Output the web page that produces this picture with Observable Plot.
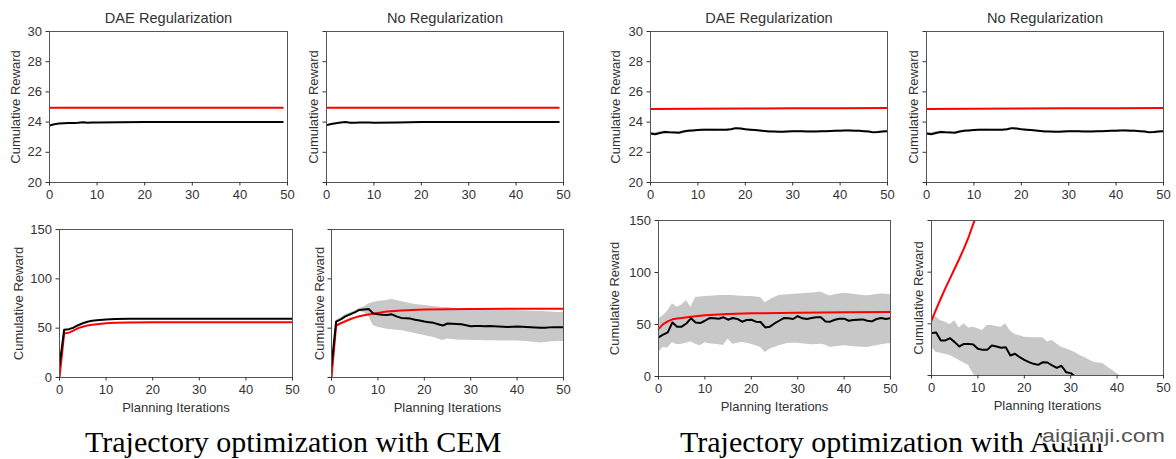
<!DOCTYPE html>
<html>
<head>
<meta charset="utf-8">
<script src="https://cdn.jsdelivr.net/npm/d3@7"></script>
<script src="https://cdn.jsdelivr.net/npm/@observablehq/plot@0.6"></script>
<style>
  html, body { margin: 0; padding: 0; background: #fff; }
  #root { position: relative; width: 1176px; height: 459px; overflow: hidden; background: #fff; }
  #root > svg, #root > figure { position: absolute; margin: 0; }
</style>
</head>
<body>
<div id="root"></div>
<script>
// ---------------- DATA ----------------
const xTicks = [0, 10, 20, 30, 40, 50];
const yTicksTop = [20, 22, 24, 26, 28, 30];
const yTicksBottom = [0, 50, 100, 150];
const colTitles = ["DAE Regularization", "No Regularization"];
const captions = ["Trajectory optimization with CEM", "Trajectory optimization with Adam"];
const yLabel = "Cumulative Reward";
const xLabel = "Planning Iterations";
const watermark = "aiqianji.com";

// CEM, top row
const cemTopX = [0, 1, 2, 3, 4, 5, 6, 7, 8, 9, 10, 15, 20, 30, 40, 49];
const cemTopDaeBlack = [23.78, 23.86, 23.9, 23.93, 23.94, 23.94, 23.96, 23.99, 23.96, 23.97, 23.98, 23.99, 24.0, 24.0, 24.0, 24.0];
const cemTopNoBlack = [23.8, 23.88, 23.93, 23.97, 24.0, 23.96, 23.95, 23.97, 23.97, 23.98, 23.96, 23.98, 24.0, 24.0, 24.0, 24.0];
const cemTopRedX = [0, 49];
const cemTopRed = [24.95, 24.95];

// CEM, bottom row, DAE
const cemBotDaeX = [0, 1, 2, 3, 4, 5, 6, 7, 8, 10, 12, 15, 20, 30, 40, 50];
const cemBotDaeBlack = [12, 48.5, 49, 50.5, 53, 55, 56.5, 57.5, 58, 58.7, 59.2, 59.5, 59.6, 59.6, 59.6, 59.6];
const cemBotDaeRed = [0, 44.5, 45.5, 47.5, 50, 51.5, 52.8, 53.5, 54, 55, 55.4, 55.7, 56, 56, 56, 56];

// CEM, bottom row, no regularization
const iter50 = [0,1,2,3,4,5,6,7,8,9,10,11,12,13,14,15,16,17,18,19,20,21,22,23,24,25,26,27,28,29,30,31,32,33,34,35,36,37,38,39,40,41,42,43,44,45,46,47,48,49,50];
const cemBotNoBlack = [12,56.7,59,62,64,66,68.5,69,69.5,65,64,63.5,63.4,64,62,60.4,60,59.7,58.5,57.7,56.7,56,55.4,54,52.7,54.7,54.5,54.2,54,53,52,52.3,52.1,52,52.2,52,51.8,51.5,51.3,51.5,51.7,51.5,51.3,51,50.6,50.3,50.5,50.8,51,51,51];
const cemBotNoHi = [12,58,60.5,63.5,65.5,67.5,70,71.5,74.5,76,77,77.5,78,79,78,77,76,75,74,73.5,73,72.5,72,71.5,71,71,70.5,70,70,69.8,69.5,69.3,69,69,68.8,68.5,68.5,68.3,68,68,68,67.7,67.5,67.2,67,66.8,66.6,66.4,66.2,66,66];
const cemBotNoLo = [12,55.5,57.5,60.5,62.5,64.5,67,66,62,52.7,51,50,49,48.5,48,47.7,46.5,45.5,44.5,43.5,42.6,41.5,40.5,39,37.6,39,38.5,38,37.8,37.7,37.6,37.5,37.4,37.3,37.2,37.2,37.1,37,37,37,37,36.8,36.5,36,35.5,35,35.5,36,36.3,36.5,36.6];
const cemBotNoRedX = [0, 1, 2, 3, 4, 5, 6, 7, 8, 10, 12, 15, 20, 25, 30, 40, 50];
const cemBotNoRed = [0, 52.7, 55, 57, 59, 60.7, 62, 63, 63.8, 65.5, 66.8, 67.8, 68.8, 69.2, 69.5, 69.7, 69.8];

// Adam, top row (both panels)
const adamTopBlack = [23.25,23.2,23.28,23.34,23.32,23.31,23.3,23.38,23.43,23.45,23.47,23.49,23.5,23.5,23.49,23.49,23.49,23.53,23.6,23.57,23.53,23.5,23.47,23.44,23.41,23.38,23.37,23.36,23.36,23.38,23.4,23.4,23.39,23.38,23.38,23.38,23.39,23.4,23.41,23.42,23.43,23.44,23.45,23.43,23.42,23.4,23.38,23.32,23.34,23.38,23.4];
const adamTopSpread = [0.09,0.09,0.08,0.07,0.06,0.05,0.05,0.04,0.04,0.04,0.04,0.04,0.04,0.04,0.04,0.04,0.04,0.04,0.04,0.04,0.04,0.04,0.04,0.04,0.04,0.04,0.04,0.04,0.04,0.04,0.04,0.04,0.04,0.04,0.04,0.04,0.04,0.04,0.04,0.04,0.04,0.04,0.04,0.04,0.04,0.04,0.04,0.04,0.04,0.04,0.04];
const adamTopRedX = [0, 10, 20, 30, 40, 50];
const adamTopRed = [24.86, 24.88, 24.9, 24.91, 24.92, 24.93];

// Adam, bottom row, DAE
const adamBotDaeBlack = [37.6,40.2,42.4,52,47.9,47.9,51,55.9,52,51.4,53.6,56.2,55.9,55.6,56.9,54.6,56.2,55.3,52.7,54.3,54.6,52.7,52.4,47.2,47.9,51,53.6,56.2,55.9,55.3,58.1,55.9,55.3,56.2,56.9,56.9,53,52.7,54.6,55.6,55.6,53.6,54.3,54.6,54.9,53.6,53,55.3,56.2,55.3,56.2];
const adamBotDaeHi = [55,58.5,63,70,66.5,68.7,73,66.5,76,76.5,77,77.2,77.5,77.8,78,78,77.8,77.5,77.2,77,77,76.5,76,71,73.6,76,78,78.3,78.6,79,79.3,79.6,80,80.3,80.6,81.3,79,77.4,78.5,79.3,80,79.5,79,78.5,78,77.7,78.2,78.8,79.3,79,78.7];
const adamBotDaeLo = [23,28,27.3,32.8,30.5,31,32,33.4,31,29.5,32.4,31.5,31,30.5,29.9,36,31,32,32.8,32,31,29.5,28,23,26.3,28,29.5,30.7,32,32,32,31.5,31,30.5,30.8,31,30,28,28.7,29,29.5,29,28.6,28.3,28.1,28,28.8,29.5,30.5,31.2,31.8];
const adamBotDaeRedX = [0, 1, 2, 3, 4, 5, 7, 10, 15, 20, 30, 40, 50];
const adamBotDaeRed = [45.6, 50.4, 53, 55, 55.7, 56.2, 57.5, 58.8, 60, 60.7, 61.4, 61.7, 62];

// Adam, bottom row, no regularization
const adamBotNoRedX = [0, 1, 2, 3, 4, 5, 6, 7, 8, 9, 10, 11];
const adamBotNoRed = [53, 64, 74.5, 84.5, 94, 103.5, 113, 123, 134, 146.8, 158, 170];
const adamBotNoBlackX = [0,1,2,3,4,5,6,7,8,9,10,11,12,13,14,15,16,17,18,19,20,21,22,23,24,25,26,27,28,29,30,31];
const adamBotNoBlack = [41,41.6,33.9,33.9,36.1,32.3,28.1,30.6,30.6,30,25.8,24.8,24.8,29,28.1,26.8,27.4,19.4,21,17.7,15.2,12.9,11.3,10.3,12.9,12.6,9.7,7.4,9.4,3.2,2.3,-1];
const adamBotNoBandX = [0,1,2,3,4,5,6,7,8,9,10,11,12,13,14,15,16,17,18,19,20,21,22,23,24,25,26,27,28,29,30,31,32,33,34,35,36,37,38,39,40,41];
const adamBotNoHi = [58,56.5,53,51.6,49.4,53,46,50,46,46.8,45.2,43.5,48.4,48.4,47.4,46.8,50,42.9,39.7,38.5,37,36.8,36.5,36.5,36.5,32.3,33.9,30.5,27.4,25.8,24.2,22,19.4,17.5,15,12.9,12,11.3,8,5,1.6,-1];
const adamBotNoLo = [27.4,22.6,21.6,20.5,19.4,17,14.5,12,9.7,1.6,-3,-5,-5,-5,-5,-5,-5,-5,-5,-5,-5,-5,-5,-5,-5,-5,-5,-5,-5,-5,-5,-5,-5,-5,-5,-5,-5,-5,-5,-5,-5,-5];

// ---------------- HELPERS ----------------
const rows = (xs, ys) => xs.map((x, i) => ({x, y: ys[i]}));
const bandRows = (xs, lo, hi) => xs.map((x, i) => ({x, lo: lo[i], hi: hi[i]}));
const FONT = "'Liberation Sans', Arial, Helvetica, sans-serif";
const root = document.getElementById("root");

function panel(cfg) {
  const ml = 62, mr = 18, mt = 30, mb = 45;
  const w = cfg.fx1 - cfg.fx0, h = cfg.fy1 - cfg.fy0;
  const marks = [];
  if (cfg.band) marks.push(Plot.areaY(cfg.band, {x: "x", y1: "lo", y2: "hi", fill: "#c8c8c8", clip: true}));
  if (cfg.red) marks.push(Plot.line(cfg.red, {x: "x", y: "y", stroke: "#ff0000", strokeWidth: 2, clip: true}));
  if (cfg.black) marks.push(Plot.line(cfg.black, {x: "x", y: "y", stroke: "#000", strokeWidth: 2, clip: true}));
  marks.push(Plot.frame({stroke: "#555", strokeWidth: 1}));
  marks.push(Plot.axisX({ticks: xTicks, tickSize: 3.5, tickPadding: 4, label: null, fontSize: 13}));
  marks.push(Plot.axisY({ticks: cfg.yTicks, tickSize: 3.5, tickPadding: 4, label: null, fontSize: 13,
    tickFormat: cfg.yLabels ? (d => String(d)) : (() => "")}));
  marks.push(Plot.text([yLabel], {frameAnchor: "left", textAnchor: "middle", lineAnchor: "middle", rotate: -90, dx: -cfg.ylOff, fontSize: 13, fill: "#333"}));
  if (cfg.title) marks.push(Plot.text([cfg.title], {frameAnchor: "top", textAnchor: "middle", lineAnchor: "middle", dy: -13.5, fontSize: 14.6, fill: "#333"}));
  if (cfg.xl) marks.push(Plot.text([xLabel], {frameAnchor: "bottom", textAnchor: "middle", lineAnchor: "middle", dy: 30.5, fontSize: 13, fill: "#333"}));
  const p = Plot.plot({
    width: w + ml + mr, height: h + mt + mb,
    marginLeft: ml, marginRight: mr, marginTop: mt, marginBottom: mb,
    x: {domain: [0, 50]},
    y: {domain: cfg.yDomain},
    style: {fontFamily: FONT, fontSize: "13px", color: "#333", background: "transparent", overflow: "visible"},
    marks
  });
  p.style.left = (cfg.fx0 - ml) + "px";
  p.style.top = (cfg.fy0 - mt) + "px";
  root.appendChild(p);
}

const adamTopBand = bandRows(iter50, adamTopBlack.map((v, i) => v - adamTopSpread[i]), adamTopBlack.map((v, i) => v + adamTopSpread[i]));

// CEM top
panel({fx0: 49, fx1: 287, fy0: 31, fy1: 182, yDomain: [20, 30], yTicks: yTicksTop, yLabels: true, ylOff: 34,
  title: colTitles[0], red: rows(cemTopRedX, cemTopRed), black: rows(cemTopX, cemTopDaeBlack)});
panel({fx0: 326, fx1: 563, fy0: 31, fy1: 182, yDomain: [20, 30], yTicks: yTicksTop, yLabels: false, ylOff: 13,
  title: colTitles[1], red: rows(cemTopRedX, cemTopRed), black: rows(cemTopX, cemTopNoBlack)});
// CEM bottom
panel({fx0: 59, fx1: 292, fy0: 229, fy1: 377, yDomain: [0, 150], yTicks: yTicksBottom, yLabels: true, ylOff: 41, xl: true,
  red: rows(cemBotDaeX, cemBotDaeRed), black: rows(cemBotDaeX, cemBotDaeBlack)});
panel({fx0: 331, fx1: 563, fy0: 229, fy1: 377, yDomain: [0, 150], yTicks: yTicksBottom, yLabels: false, ylOff: 12, xl: true,
  band: bandRows(iter50, cemBotNoLo, cemBotNoHi), red: rows(cemBotNoRedX, cemBotNoRed), black: rows(iter50, cemBotNoBlack)});
// Adam top
panel({fx0: 650, fx1: 887, fy0: 31, fy1: 182, yDomain: [20, 30], yTicks: yTicksTop, yLabels: true, ylOff: 35,
  title: colTitles[0], band: adamTopBand, red: rows(adamTopRedX, adamTopRed), black: rows(iter50, adamTopBlack)});
panel({fx0: 926, fx1: 1163, fy0: 31, fy1: 182, yDomain: [20, 30], yTicks: yTicksTop, yLabels: false, ylOff: 12.5,
  title: colTitles[1], band: adamTopBand, red: rows(adamTopRedX, adamTopRed), black: rows(iter50, adamTopBlack)});
// Adam bottom
panel({fx0: 658, fx1: 890, fy0: 220, fy1: 376, yDomain: [0, 150], yTicks: yTicksBottom, yLabels: true, ylOff: 43.5, xl: true,
  band: bandRows(iter50, adamBotDaeLo, adamBotDaeHi), red: rows(adamBotDaeRedX, adamBotDaeRed), black: rows(iter50, adamBotDaeBlack)});
panel({fx0: 931, fx1: 1163, fy0: 220, fy1: 375, yDomain: [0, 150], yTicks: yTicksBottom, yLabels: false, ylOff: 12.5, xl: true,
  band: bandRows(adamBotNoBandX, adamBotNoLo, adamBotNoHi), red: rows(adamBotNoRedX, adamBotNoRed), black: rows(adamBotNoBlackX, adamBotNoBlack)});

// Captions and watermark (real text)
const ov = d3.select(root).append("svg")
  .attr("width", 1176).attr("height", 459)
  .style("left", "0px").style("top", "0px").style("pointer-events", "none");
ov.append("text").attr("x", 85).attr("y", 452)
  .attr("font-family", "'Liberation Serif', 'Times New Roman', serif").attr("font-size", 30).attr("fill", "#000")
  .text(captions[0]);
ov.append("text").attr("x", 680).attr("y", 452)
  .attr("font-family", "'Liberation Serif', 'Times New Roman', serif").attr("font-size", 30).attr("fill", "#000")
  .text(captions[1]);
ov.append("text").attr("x", 1042).attr("y", 442)
  .attr("font-family", FONT).attr("font-size", 18).attr("fill", "#555")
  .attr("stroke", "#fff").attr("stroke-width", 3).attr("paint-order", "stroke")
  .attr("textLength", 123).attr("lengthAdjust", "spacingAndGlyphs")
  .text(watermark);
</script>
</body>
</html>
